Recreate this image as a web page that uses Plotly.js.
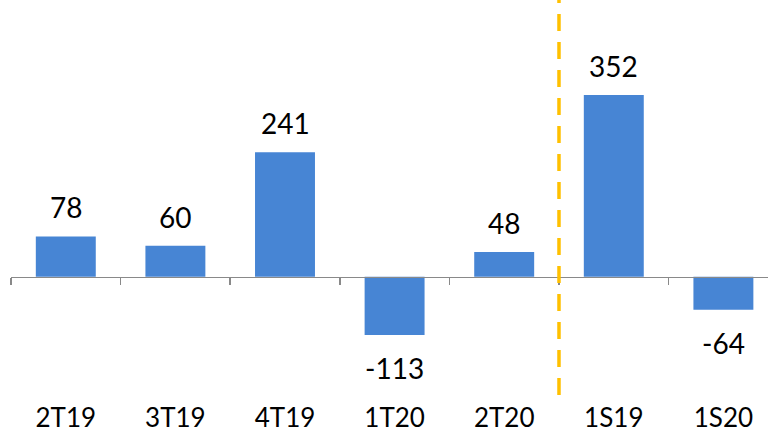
<!DOCTYPE html>
<html>
<head>
<meta charset="utf-8">
<script src="https://cdn.plot.ly/plotly-3.0.1.min.js"></script>
<style>html,body{margin:0;padding:0;background:#fff}#chart{width:768px;height:436px}</style>
</head>
<body>
<div id="chart"></div>
<script>
const categories = ["2T19", "3T19", "4T19", "1T20", "2T20", "1S19", "1S20"];
const values = [78, 60, 241, -113, 48, 352, -64];
const dividerAt = 4.5;

const yMin = -229.2, yMax = 536;
const zeroFrac = (0 - yMin) / (yMax - yMin);
const FONT = "Lato, 'Noto Sans', sans-serif";

const trace = {
  type: "bar",
  x: categories,
  y: values,
  width: 0.547,
  marker: {color: "#4785D4", line: {width: 0}},
  hoverinfo: "skip"
};

const annotations = values.map((v, i) => ({
  x: categories[i],
  y: v,
  xref: "x",
  yref: "y",
  text: String(v),
  showarrow: false,
  yanchor: "middle",
  yshift: v >= 0 ? 29 : -33,
  font: {family: FONT, size: 28, color: "#000"}
}));

const layout = {
  width: 768,
  height: 436,
  margin: {l: 11, r: 0, t: 0, b: 41, pad: 0},
  paper_bgcolor: "#fff",
  plot_bgcolor: "#fff",
  showlegend: false,
  bargap: 0.45,
  xaxis: {
    type: "category",
    range: [-0.5, 6.407],
    anchor: "free",
    position: zeroFrac,
    showline: true,
    linecolor: "#898989",
    linewidth: 1.5,
    ticks: "outside",
    tickson: "boundaries",
    ticklen: 7,
    tickwidth: 1.5,
    tickcolor: "#898989",
    showgrid: false,
    zeroline: false,
    ticklabelstandoff: 118,
    tickfont: {family: FONT, size: 26, color: "#000"},
    fixedrange: true
  },
  yaxis: {
    range: [yMin, yMax],
    visible: false,
    showgrid: false,
    zeroline: false,
    fixedrange: true
  },
  shapes: [{
    type: "line",
    xref: "x",
    yref: "paper",
    x0: dividerAt, x1: dividerAt,
    y0: 0, y1: 1,
    line: {color: "#FFC000", width: 3.5, dash: "17px,11px"}
  }],
  annotations: annotations
};

Plotly.newPlot("chart", [trace], layout, {displayModeBar: false, staticPlot: true});
</script>
</body>
</html>
